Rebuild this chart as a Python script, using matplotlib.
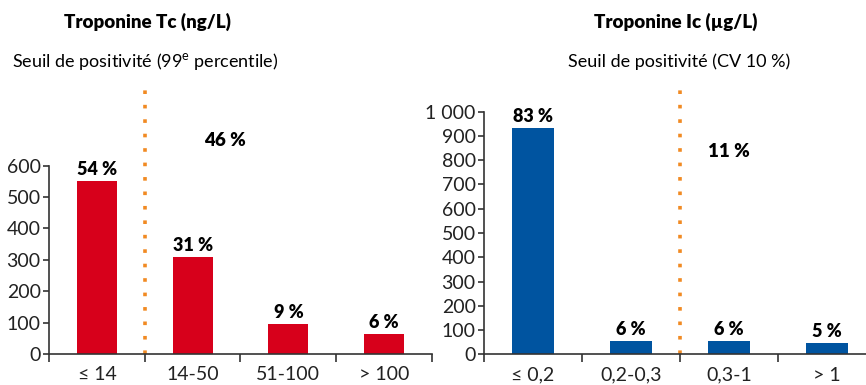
import matplotlib
matplotlib.use('Agg')
import matplotlib.pyplot as plt
import numpy as np

plt.rcParams['font.family'] = ['Lato', 'DejaVu Sans']
plt.rcParams['mathtext.fontset'] = 'custom'
plt.rcParams['mathtext.rm'] = 'Lato'

# Troponine Tc (ng/L)
tc_cats = ['≤ 14', '14-50', '51-100', '> 100']
tc_vals = [551, 309, 96, 64]
tc_pcts = ['54 %', '31 %', '9 %', '6 %']
tc_above = '46 %'

# Troponine Ic (µg/L)
ic_cats = ['≤ 0,2', '0,2-0,3', '0,3-1', '> 1']
ic_vals = [933, 56, 56, 48]
ic_pcts = ['83 %', '6 %', '6 %', '5 %']
ic_above = '11 %'

red = '#D7001B'
blue = '#0054A0'
orange = '#F18A22'
axcol = '#333333'

W, H = 866, 385
fig = plt.figure(figsize=(W / 100, H / 100), dpi=100)


def px_axes(x0, x1, ytop, ybot):
    return fig.add_axes([x0 / W, (H - ybot) / H, (x1 - x0) / W, (ybot - ytop) / H])


def style(ax, cats, ymax, step, labels):
    ax.set_xlim(-0.5, len(cats) - 0.5)
    ax.set_ylim(0, ymax)
    for s in ['top', 'right']:
        ax.spines[s].set_visible(False)
    for s in ['left', 'bottom']:
        ax.spines[s].set_color(axcol)
        ax.spines[s].set_linewidth(1.2)
    ax.set_xticks(range(len(cats)))
    ax.set_xticklabels(cats, fontsize=14)
    ax.set_xticks(np.arange(-0.5, len(cats), 1.0), minor=True)
    ax.tick_params(axis='x', which='major', length=0, pad=9, colors='#222222')
    ax.tick_params(axis='x', which='minor', length=6, width=1.2, color=axcol)
    ticks = np.arange(0, ymax + 1, step)
    ax.set_yticks(ticks)
    ax.set_yticklabels(labels, fontsize=14)
    ax.tick_params(axis='y', length=4, width=1.2, color=axcol, pad=2, labelcolor='#222222')
    ax.patch.set_alpha(0)


# left chart
ax1 = px_axes(49, 432, 165.7, 354)
x = np.arange(len(tc_cats))
ax1.bar(x, tc_vals, width=0.42, color=red, zorder=2)
style(ax1, tc_cats, 600, 100, [str(v) for v in range(0, 601, 100)])
for xi, v, p in zip(x, tc_vals, tc_pcts):
    ax1.annotate(p, (xi, v), xytext=(0, 2), textcoords='offset points',
                 ha='center', va='bottom', fontsize=13, fontweight='heavy')
ax1.plot([0.5, 0.5], [0, 870], color=orange, lw=2.6, linestyle=(0, (1, 3.0)),
         clip_on=False, zorder=1)
ax1.text(1.34, 680, tc_above, ha='center', va='center', fontsize=13.5, fontweight='heavy')

# right chart
ax2 = px_axes(484, 876, 111.7, 354.3)
x = np.arange(len(ic_cats))
ax2.bar(x, ic_vals, width=0.42, color=blue, zorder=2)
ylab = ['0', '100', '200', '300', '400', '500', '600', '700', '800', '900', '1 000']
style(ax2, ic_cats, 1000, 100, ylab)
for xi, v, p in zip(x, ic_vals, ic_pcts):
    ax2.annotate(p, (xi, v), xytext=(0, 2), textcoords='offset points',
                 ha='center', va='bottom', fontsize=13, fontweight='heavy')
ax2.plot([1.5, 1.5], [0, 1127], color=orange, lw=2.6, linestyle=(0, (1, 3.0)),
         clip_on=False, zorder=1)
ax2.text(2.0, 834, ic_above, ha='center', va='center', fontsize=13.5, fontweight='heavy')

# titles
fig.text(147 / W, 1 - 22 / H, 'Troponine Tc (ng/L)', ha='center', va='center',
         fontsize=13.5, fontweight='heavy')
fig.text(145 / W, 1 - 62 / H, 'Seuil de positivité (99$^{\\mathrm{e}}$ percentile)',
         ha='center', va='center', fontsize=13)
fig.text(676 / W, 1 - 22 / H, 'Troponine Ic (µg/L)', ha='center', va='center',
         fontsize=13.5, fontweight='heavy')
fig.text(679 / W, 1 - 62 / H, 'Seuil de positivité (CV 10 %)', ha='center', va='center',
         fontsize=13)

fig.savefig('out.png', dpi=100)
